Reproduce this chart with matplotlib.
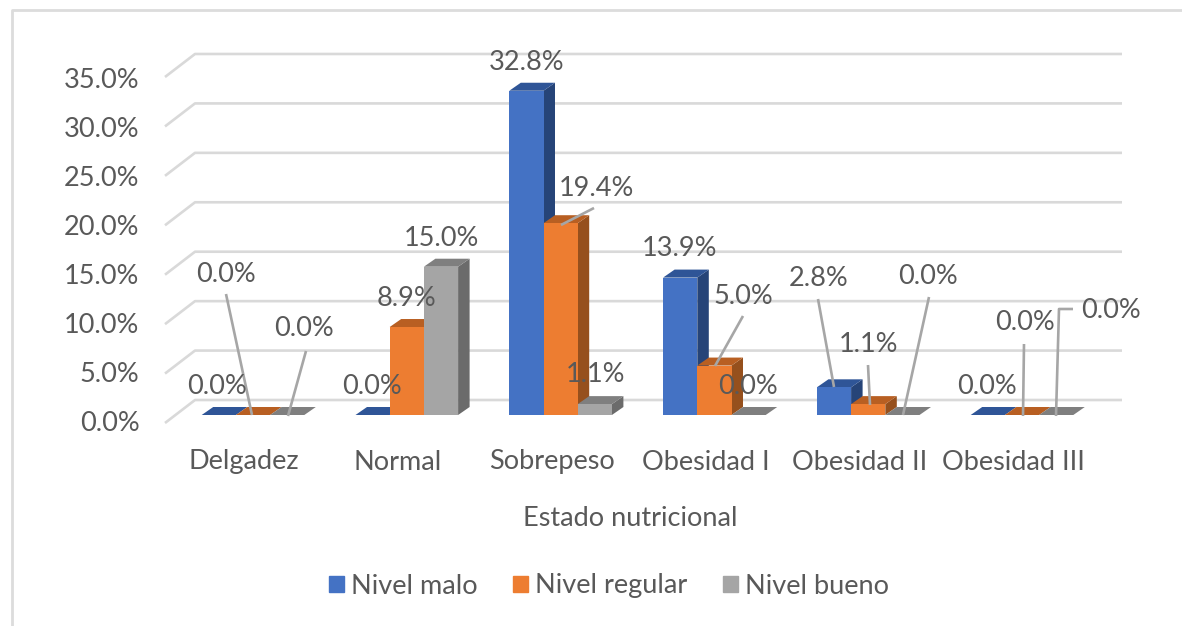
import matplotlib
matplotlib.use("Agg")
import matplotlib.pyplot as plt
from matplotlib.patches import Patch, Polygon, Rectangle

categories = ["Delgadez", "Normal", "Sobrepeso", "Obesidad I", "Obesidad II", "Obesidad III"]
nivel_malo = [0.0, 0.0, 32.8, 13.9, 2.8, 0.0]
nivel_regular = [0.0, 8.9, 19.4, 5.0, 1.1, 0.0]
nivel_bueno = [0.0, 15.0, 1.1, 0.0, 0.0, 0.0]
y_ticks = [0, 5, 10, 15, 20, 25, 30, 35]

W, H = 1182, 626
X0, X_STEP = 253.0, 153.8  # pixel of category 0, pixels per category
Y0, Y_STEP = 415.0, 9.886  # pixel of 0 %, pixels per percent
TEXT = "#595959"
GRID = "#d9d9d9"
FONT = "Lato"
FS = 19.5

plt.rcParams["font.family"] = [FONT, "DejaVu Sans"]

fig = plt.figure(figsize=(W / 100, H / 100), dpi=100)
ax = fig.add_axes([0, 0, 1, 1])
ax.set_xlim(-X0 / X_STEP, (W - X0) / X_STEP)
ax.set_ylim((Y0 - H) / Y_STEP, Y0 / Y_STEP)
ax.axis("off")


def px(x, y):
    # picture pixels -> data coordinates, for the furniture around the bars
    return (x - X0) / X_STEP, (Y0 - y) / Y_STEP


def line_px(points, **kw):
    pts = [px(*p) for p in points]
    ax.plot([p[0] for p in pts], [p[1] for p in pts], solid_capstyle="butt", **kw)


# only the top and left edges of the pasted chart's frame are in the crop
line_px([(11.5, H), (11.5, 10), (W, 10)], color="#dcdcdc", lw=2.0, zorder=0)

# gridlines on the back wall plus the slanted bit on the side wall
for t in y_ticks:
    back = Y0 - 15 - t * Y_STEP
    line_px([(165, back + 23), (195, back), (1122, back)], color=GRID, lw=1.9, zorder=1)
    ax.text(*px(139.5, 423.5 - t * 9.8), f"{t:.1f}%", ha="right", va="center", color=TEXT, fontsize=FS)

# 3d bars
bar_w = 34.2 / X_STEP
dx, dy = 11.5 / X_STEP, 8.0 / Y_STEP
series = [
    (nivel_malo, "#4472C4", "#2F5597", "#264478", -1),
    (nivel_regular, "#ED7D31", "#B85F22", "#96501D", 0),
    (nivel_bueno, "#A5A5A5", "#7F7F7F", "#6B6B6B", 1),
]
for i in range(len(categories)):
    for values, front, top, side, off in series:
        left = i + off * bar_w - bar_w / 2
        right = left + bar_w
        v = values[i]
        ax.add_patch(Polygon([(right, 0), (right + dx, dy), (right + dx, v + dy), (right, v)],
                             fc=side, ec="none", zorder=3))
        ax.add_patch(Polygon([(left, v), (left + dx, v + dy), (right + dx, v + dy), (right, v)],
                             fc=top, ec="none", zorder=3))
        ax.add_patch(Rectangle((left, 0), bar_w, v, fc=front, ec="none", zorder=3))

# leader lines
leaders = [
    [(226, 294), (252, 415)],
    [(306, 351), (288, 416)],
    [(594, 208), (561, 225)],
    [(743, 316), (715, 366)],
    [(818, 299), (834, 387)],
    [(868, 365), (870, 405)],
    [(929, 297), (903, 415)],
    [(1024, 344), (1023, 416)],
    [(1073, 309), (1059, 309), (1056, 416)],
]
for pts in leaders:
    line_px(pts, color="#a6a6a6", lw=1.9, zorder=4)

# data labels, pixel centres per series and category
label_pos = {
    "malo": [(217, 386), (372, 386), (527, 62), (680, 249), (819, 278), (987, 386)],
    "regular": [(226, 274), (406, 299), (596, 188), (743, 296), (869, 344), (1025, 323)],
    "bueno": [(304, 329), (441, 238), (596, 375), (748, 386), (928, 277), (1111, 311)],
}
for key, values in (("malo", nivel_malo), ("regular", nivel_regular), ("bueno", nivel_bueno)):
    for v, pos in zip(values, label_pos[key]):
        ax.text(*px(*pos), f"{v:.1f}%", ha="center", va="center", color=TEXT, fontsize=FS, zorder=5)

# category labels sit a bit left of the bar groups
for i, c in enumerate(categories):
    ax.text(i - 9 / X_STEP, px(0, 462)[1], c, ha="center", va="center", color=TEXT, fontsize=FS)

ax.text(*px(630, 518), "Estado nutricional", ha="center", va="center", color=TEXT, fontsize=FS)

handles = [Patch(color=s[1]) for s in series]
fig.legend(handles, ["Nivel malo", "Nivel regular", "Nivel bueno"], ncol=3, frameon=False,
           loc="center", bbox_to_anchor=(609 / W, 1 - 586 / H), fontsize=FS, labelcolor=TEXT,
           handlelength=0.55, handleheight=0.55, handletextpad=0.27, columnspacing=1.3,
           borderpad=0, borderaxespad=0)

fig.savefig("out.png", dpi=100)
